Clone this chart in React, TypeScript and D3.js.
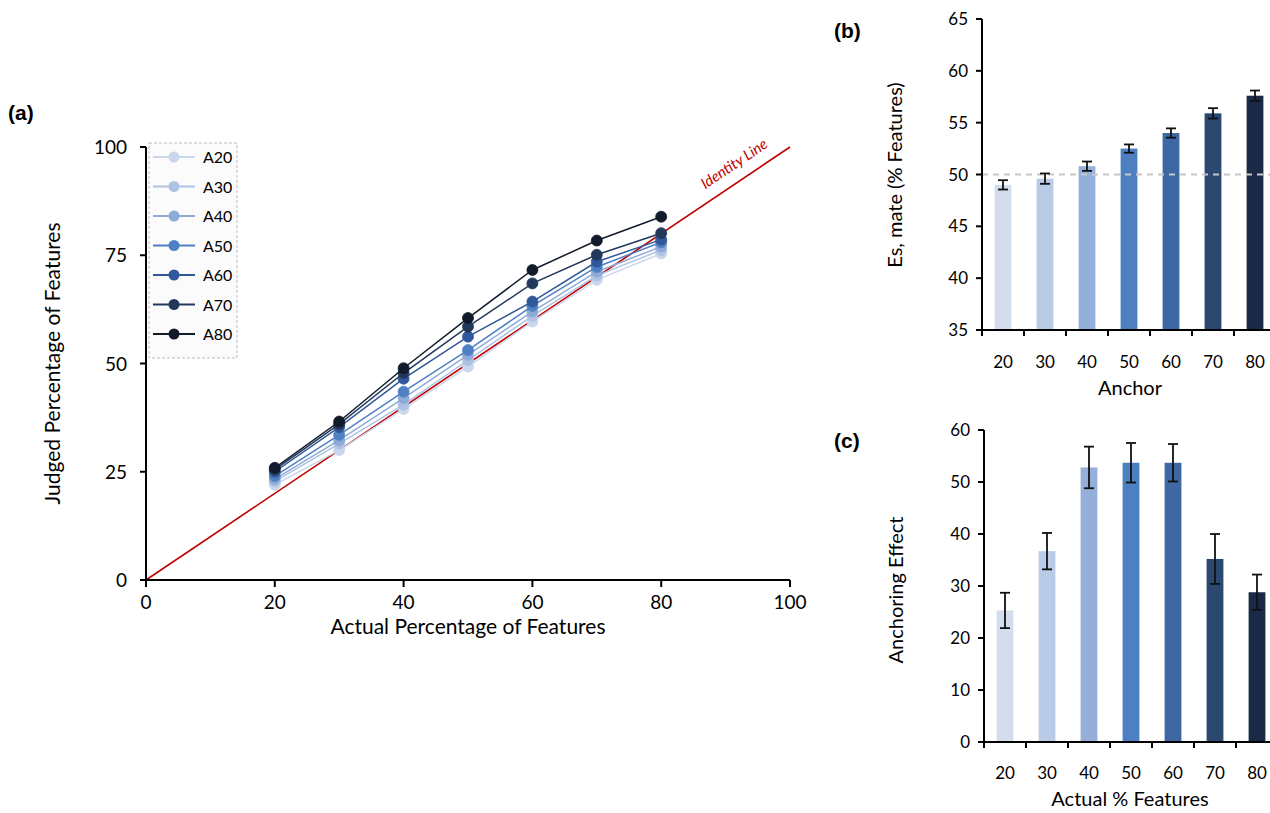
import React from "react";
import * as d3 from "d3";

const actual = [20, 30, 40, 50, 60, 70, 80];
const seriesNames = ["A20", "A30", "A40", "A50", "A60", "A70", "A80"];
const judgedA20 = [22, 30, 39.5, 49.3, 59.7, 69.3, 75.4];
const judgedA30 = [22.8, 31.5, 40.5, 50.8, 61, 70.3, 76.2];
const judgedA40 = [23.3, 32.3, 42, 52, 62, 71.2, 77];
const judgedA50 = [24, 33.5, 43.5, 53.1, 63.3, 72.3, 78];
const judgedA60 = [25, 35.3, 46.5, 56.2, 64.3, 73.5, 78.6];
const judgedA70 = [25.5, 36, 47.8, 58.5, 68.5, 75.1, 80.1];
const judgedA80 = [25.9, 36.6, 48.9, 60.5, 71.6, 78.4, 83.9];
const judged = [judgedA20, judgedA30, judgedA40, judgedA50, judgedA60, judgedA70, judgedA80];

const anchors = ["20", "30", "40", "50", "60", "70", "80"];
const estimateMean = [49.0, 49.6, 50.8, 52.5, 54.0, 55.9, 57.6];
const estimateErr = [0.45, 0.5, 0.45, 0.4, 0.45, 0.5, 0.5];

const effectMean = [25.3, 36.7, 52.8, 53.7, 53.7, 35.2, 28.8];
const effectErr = [3.4, 3.5, 4.0, 3.8, 3.6, 4.8, 3.4];

const xTicksA = [0, 20, 40, 60, 80, 100];
const yTicksA = [0, 25, 50, 75, 100];
const yTicksB = [35, 40, 45, 50, 55, 60, 65];
const yTicksC = [0, 10, 20, 30, 40, 50, 60];

const colors = ["#c9d7ec", "#aec3e2", "#8eabd8", "#4f80c3", "#31589a", "#23395c", "#121b2c"];
const barColors = ["#d3ddee", "#b9cbe6", "#94b0da", "#4d7fc3", "#3d68a4", "#2b4870", "#1a2a46"];

const FONT = "Lato, 'Open Sans', sans-serif";

export default function App() {
  // Panel (a)
  const ax = d3.scaleLinear().domain([0, 100]).range([146, 790]);
  const ay = d3.scaleLinear().domain([0, 100]).range([580, 147]);
  const line = d3.line<number>().x((_, i) => ax(actual[i])).y((d) => ay(d));
  const symbolPath = d3.symbol().type(d3.symbolCircle).size(95)() as string;

  // Panel (b)
  const bx = d3.scaleBand().domain(anchors).range([982, 1276]).paddingInner(0.6).paddingOuter(0.3);
  const by = d3.scaleLinear().domain([35, 65]).range([330, 19]);
  // Panel (c)
  const cx = d3.scaleBand().domain(anchors).range([984, 1278]).paddingInner(0.6).paddingOuter(0.3);
  const cy = d3.scaleLinear().domain([0, 60]).range([742, 430]);

  const step = bx.step();
  const bTickPos = anchors.map((_, i) => 982 + i * step);
  const cTickPos = anchors.map((_, i) => 984 + i * cx.step());

  const idAngle = (Math.atan2(ay(100) - ay(0), ax(100) - ax(0)) * 180) / Math.PI;

  return (
    <svg width={1270} height={813} style={{ display: "block", position: "absolute", left: 0, top: 0 }} fontFamily={FONT}>
      <rect width={1270} height={813} fill="#fff" />
      {/* Panel labels */}
      <text x={8} y={120} fontFamily="'Liberation Sans', Arial, sans-serif" fontWeight="bold" fontSize={21}>(a)</text>
      <text x={834} y={38} fontFamily="'Liberation Sans', Arial, sans-serif" fontWeight="bold" fontSize={21}>(b)</text>
      <text x={834} y={448} fontFamily="'Liberation Sans', Arial, sans-serif" fontWeight="bold" fontSize={21}>(c)</text>

      {/* ===== Panel (a) ===== */}
      <g>
        {/* identity line */}
        <line x1={ax(0)} y1={ay(0)} x2={ax(100)} y2={ay(100)} stroke="#c00000" strokeWidth={1.6} />
        <text
          transform={`translate(737,168) rotate(${idAngle})`}
          fill="#c00000"
          fontSize={15}
          fontStyle="italic"
          textAnchor="middle"
        >
          Identity Line
        </text>
        {/* series */}
        {judged.map((vals, s) => (
          <g key={s}>
            <path d={line(vals) as string} fill="none" stroke={colors[s]} strokeWidth={1.5} />
            {vals.map((v, i) => (
              <path key={i} d={symbolPath} transform={`translate(${ax(actual[i])},${ay(v)})`} fill={colors[s]} stroke={colors[s]} strokeWidth={0.8} />
            ))}
          </g>
        ))}
        {/* axes */}
        <line x1={ax(0)} y1={ay(0)} x2={ax(100)} y2={ay(0)} stroke="#000" strokeWidth={2} />
        <line x1={ax(0)} y1={ay(0)} x2={ax(0)} y2={ay(100)} stroke="#000" strokeWidth={2} />
        {xTicksA.map((t) => (
          <g key={t}>
            <line x1={ax(t)} x2={ax(t)} y1={ay(0)} y2={ay(0) + 7} stroke="#000" strokeWidth={2} />
            <text x={ax(t)} y={ay(0) + 29} textAnchor="middle" fontSize={19}>{t}</text>
          </g>
        ))}
        {yTicksA.map((t) => (
          <g key={t}>
            <line x1={ax(0) - 6} x2={ax(0)} y1={ay(t)} y2={ay(t)} stroke="#000" strokeWidth={2} />
            <text x={127} y={ay(t) + 7} textAnchor="end" fontSize={19}>{t}</text>
          </g>
        ))}
        <text x={468} y={634} textAnchor="middle" fontSize={21}>Actual Percentage of Features</text>
        <text transform={`translate(60,${ay(50)}) rotate(-90)`} textAnchor="middle" fontSize={21}>Judged Percentage of Features</text>

        {/* legend */}
        <rect x={149} y={143} width={88} height={215} fill="#fbfbfb" stroke="#bbb" strokeDasharray="3,2" />
        {seriesNames.map((n, s) => {
          const yy = 157 + s * 29.5;
          return (
            <g key={n}>
              <line x1={153} x2={195} y1={yy} y2={yy} stroke={colors[s]} strokeWidth={2} />
              <path d={symbolPath} transform={`translate(174,${yy})`} fill={colors[s]} />
              <text x={203} y={yy + 6} fontSize={16}>{n}</text>
            </g>
          );
        })}
      </g>

      {/* ===== Panel (b) ===== */}
      <g>
        {anchors.map((a, i) => (
          <rect key={a} x={bx(a)} y={by(estimateMean[i])} width={bx.bandwidth()} height={by(35) - by(estimateMean[i])} fill={barColors[i]} />
        ))}
        <line x1={982} x2={1270} y1={by(50)} y2={by(50)} stroke="#c8c8c8" strokeWidth={2} strokeDasharray="6,5" />
        {anchors.map((a, i) => {
          const c = (bx(a) as number) + bx.bandwidth() / 2;
          const hi = by(estimateMean[i] + estimateErr[i]);
          const lo = by(estimateMean[i] - estimateErr[i]);
          return (
            <g key={a} stroke="#111" strokeWidth={1.8}>
              <line x1={c} x2={c} y1={hi} y2={lo} />
              <line x1={c - 5} x2={c + 5} y1={hi} y2={hi} />
              <line x1={c - 5} x2={c + 5} y1={lo} y2={lo} />
            </g>
          );
        })}
        <line x1={982} x2={1270} y1={by(35)} y2={by(35)} stroke="#000" strokeWidth={2} />
        <line x1={982} x2={982} y1={by(35)} y2={by(65)} stroke="#000" strokeWidth={2} />
        {bTickPos.map((p, i) => (
          <line key={i} x1={p} x2={p} y1={by(35)} y2={by(35) + 6} stroke="#000" strokeWidth={2} />
        ))}
        {yTicksB.map((t) => (
          <g key={t}>
            <line x1={976} x2={982} y1={by(t)} y2={by(t)} stroke="#000" strokeWidth={2} />
            <text x={968} y={by(t) + 6} textAnchor="end" fontSize={17}>{t}</text>
          </g>
        ))}
        {anchors.map((a) => (
          <text key={a} x={(bx(a) as number) + bx.bandwidth() / 2} y={368} textAnchor="middle" fontSize={17}>{a}</text>
        ))}
        <text x={1130} y={395} textAnchor="middle" fontSize={20}>Anchor</text>
        <text transform={`translate(902,175) rotate(-90)`} textAnchor="middle" fontSize={20}>Es, mate (% Features)</text>
      </g>

      {/* ===== Panel (c) ===== */}
      <g>
        {anchors.map((a, i) => (
          <rect key={a} x={cx(a)} y={cy(effectMean[i])} width={cx.bandwidth()} height={cy(0) - cy(effectMean[i])} fill={barColors[i]} />
        ))}
        {anchors.map((a, i) => {
          const c = (cx(a) as number) + cx.bandwidth() / 2;
          const hi = cy(effectMean[i] + effectErr[i]);
          const lo = cy(effectMean[i] - effectErr[i]);
          return (
            <g key={a} stroke="#111" strokeWidth={1.8}>
              <line x1={c} x2={c} y1={hi} y2={lo} />
              <line x1={c - 5} x2={c + 5} y1={hi} y2={hi} />
              <line x1={c - 5} x2={c + 5} y1={lo} y2={lo} />
            </g>
          );
        })}
        <line x1={984} x2={1270} y1={cy(0)} y2={cy(0)} stroke="#000" strokeWidth={2} />
        <line x1={984} x2={984} y1={cy(0)} y2={cy(60)} stroke="#000" strokeWidth={2} />
        {cTickPos.map((p, i) => (
          <line key={i} x1={p} x2={p} y1={cy(0)} y2={cy(0) + 6} stroke="#000" strokeWidth={2} />
        ))}
        {yTicksC.map((t) => (
          <g key={t}>
            <line x1={978} x2={984} y1={cy(t)} y2={cy(t)} stroke="#000" strokeWidth={2} />
            <text x={970} y={cy(t) + 6} textAnchor="end" fontSize={17}>{t}</text>
          </g>
        ))}
        {anchors.map((a) => (
          <text key={a} x={(cx(a) as number) + cx.bandwidth() / 2} y={779} textAnchor="middle" fontSize={17}>{a}</text>
        ))}
        <text x={1130} y={806} textAnchor="middle" fontSize={20}>Actual % Features</text>
        <text transform={`translate(903,590) rotate(-90)`} textAnchor="middle" fontSize={20}>Anchoring Effect</text>
      </g>
    </svg>
  );
}
